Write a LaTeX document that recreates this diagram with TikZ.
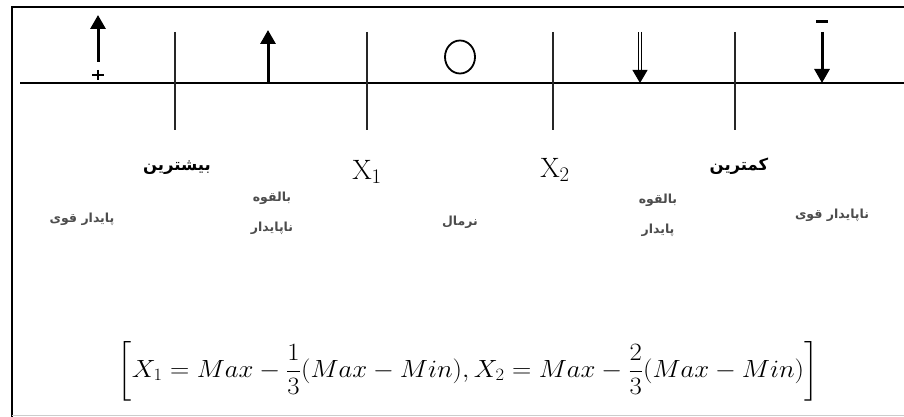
\documentclass[tikz,border=0pt]{standalone}
\usepackage{fontspec}
\usepackage{amsmath}
\newfontfamily\arabicfont[Script=Arabic]{DejaVu Sans}
\TeXXeTstate=1
\usetikzlibrary{shapes.geometric, arrows.meta, positioning}

\begin{document}
\begin{tikzpicture}[
    x=1pt, y=-1pt,
    axis/.style={line width=2.6pt, black},
    tickline/.style={line width=1.2pt, black!85},
    uparr/.style={line width=3pt, -{Triangle[length=14pt, width=15pt]}},
    openarr/.style={line width=0.9pt, double distance=1.6pt, -{Triangle[length=13pt, width=15pt]}},
    signline/.style={line width=2.4pt, black},
    fa/.style={font=\arabicfont\bfseries\fontsize{12.5}{30}\selectfont, text=black!70, align=center},
    fab/.style={font=\arabicfont\bfseries\fontsize{16.5}{18}\selectfont, text=black},
    xlabel/.style={font=\fontsize{28}{30}\selectfont}
  ]
  \useasboundingbox (0,0) rectangle (904,417);

  % Frame
  \draw[line width=2.5pt] (12,417) -- (12,7) -- (904,7);
  \draw[black!20, line width=1pt] (12,415) -- (904,415);

  % Axis and ticks
  \draw[axis] (20,83) -- (904,83);
  \foreach \x/\n in {175/tmax, 367/tx1, 553/tx2, 735/tmin}{
    \draw[tickline] (\x,32) -- (\x,130);
    \coordinate (\n) at (\x,130);
  }

  % Tick labels
  \node[fab]    (lmax) at (177,168) {\beginR بیشترین\endR};
  \node[xlabel] (lx1)  at (367,172) {X$_1$};
  \node[xlabel] (lx2)  at (555,170) {X$_2$};
  \node[fab]    (lmin) at (739,166) {\beginR کمترین\endR};

  % Zone labels
  \node[fa] (zsst) at (82,219)  {\beginR پایدار قوی\endR};
  \node[fa] (zpun) at (272,213) {\beginR بالقوه\endR\\\beginR ناپایدار\endR};
  \node[fa] (znor) at (460,222) {\beginR نرمال\endR};
  \node[fa] (zpst) at (658,215) {\beginR بالقوه\endR\\\beginR پایدار\endR};
  \node[fa] (zsun) at (832,215) {\beginR ناپایدار قوی\endR};

  % Zone symbols
  \coordinate (plus) at (98,75);
  \draw[signline] (plus) ++(-6,0) -- ++(12,0) (plus) ++(0,-5) -- ++(0,10);
  \coordinate (a1) at (98,62);
  \coordinate (b1) at (98,15);
  \draw[uparr] (a1) -- (b1);
  \coordinate (a2) at (268,83);
  \coordinate (b2) at (268,30);
  \draw[uparr] (a2) -- (b2);
  \node[draw, line width=1.8pt, ellipse, minimum width=30pt, minimum height=33pt,
        inner sep=0pt] (circ) at (460,57) {};
  \coordinate (a4) at (640,32);
  \coordinate (b4) at (640,83);
  \draw[openarr] (a4) -- (b4);
  \coordinate (minus) at (822,22);
  \draw[signline, line width=3pt] (minus) ++(-6,0) -- ++(12,0);
  \coordinate (a5) at (822,32);
  \coordinate (b5) at (822,83);
  \draw[uparr] (a5) -- (b5);

  % Formula
  \node[font=\fontsize{25}{30}\selectfont, xscale=1.075] (formula) at (468,371)
    {$\displaystyle\left[X_1 = Max - \frac{1}{3}(Max - Min), X_2 = Max - \frac{2}{3}(Max - Min)\right]$};
\end{tikzpicture}
\end{document}
